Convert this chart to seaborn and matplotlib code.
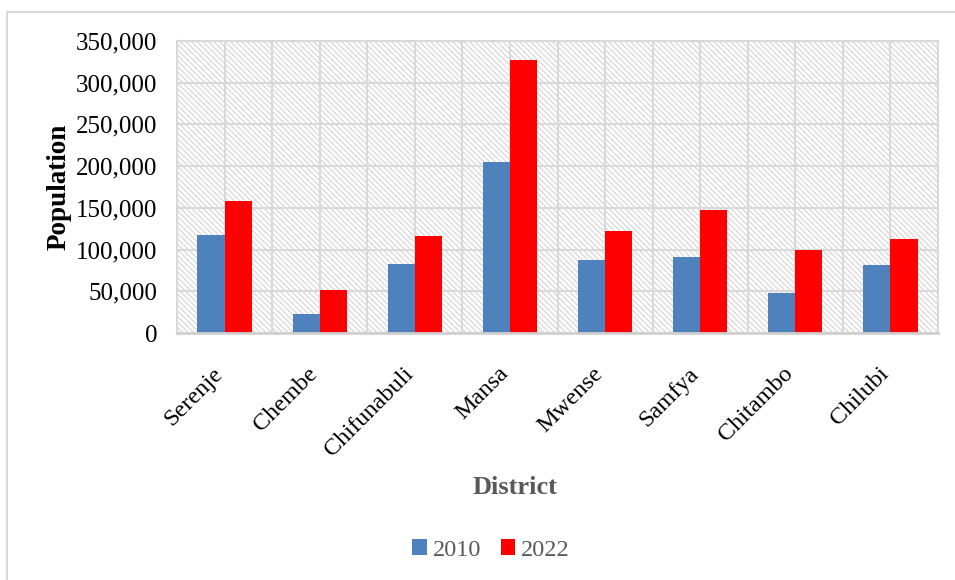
import matplotlib
matplotlib.use("Agg")
import matplotlib.pyplot as plt
import matplotlib.transforms as mtransforms
from matplotlib.patches import Rectangle, Patch
from matplotlib.ticker import FuncFormatter, MultipleLocator
import numpy as np
import pandas as pd
import seaborn as sns

# District populations (census years 2010 and 2022)
districts = ["Serenje", "Chembe", "Chifunabuli", "Mansa",
             "Mwense", "Samfya", "Chitambo", "Chilubi"]
pop_2010 = [118000, 23000, 83000, 205000, 87000, 91000, 48000, 81000]
pop_2022 = [158000, 51000, 116000, 327000, 122000, 147000, 100000, 113000]
years = ["2010", "2022"]
year_colors = ["#4F81BD", "#FF0000"]
y_ticks = [0, 50000, 100000, 150000, 200000, 250000, 300000, 350000]

df = pd.DataFrame({
    "District": districts * 2,
    "Population": pop_2010 + pop_2022,
    "Year": [years[0]] * len(districts) + [years[1]] * len(districts),
})

sns.set_theme(style="white")
plt.rcParams["font.family"] = ["Liberation Serif", "DejaVu Serif"]
plt.rcParams["hatch.linewidth"] = 0.8

W, H = 955, 580
fig = plt.figure(figsize=(W / 100, H / 100), dpi=100)
fig.patch.set_facecolor("white")

left, right, top, bottom = 177, 938, 41, 333
ax = fig.add_axes([left / W, 1 - bottom / H, (right - left) / W, (bottom - top) / H])

# hatched plot-area fill
ax.set_facecolor("white")
ax.add_patch(Rectangle((0, 0), 1, 1, transform=ax.transAxes, facecolor="white",
                       edgecolor="#d4d4d4", hatch="\\" * 6, linewidth=0, zorder=0.1))

sns.barplot(data=df, x="District", y="Population", hue="Year",
            palette=year_colors, width=0.57, gap=0, saturation=1,
            linewidth=0, legend=False, ax=ax, zorder=2)

ax.set_xlim(-0.5, len(districts) - 0.5)
ax.set_ylim(0, 350000)
ax.set_yticks(y_ticks)
ax.yaxis.set_major_formatter(FuncFormatter(lambda v, _: f"{int(v):,}"))

# gridlines: horizontal every 50,000, vertical every half category
ax.set_axisbelow(True)
ax.xaxis.set_minor_locator(MultipleLocator(0.5))
ax.grid(axis="y", which="major", color="#d9d9d9", linewidth=1.5)
ax.grid(axis="x", which="both", color="#d9d9d9", linewidth=1.5)
ax.tick_params(axis="x", which="both", length=0)
ax.tick_params(axis="y", length=0, pad=14, labelsize=18, labelcolor="black")
ax.tick_params(axis="x", pad=27, labelsize=17.5, labelcolor="black")

for lbl in ax.get_xticklabels():
    lbl.set_rotation(45)
    lbl.set_ha("right")
    lbl.set_va("center")
    lbl.set_rotation_mode("anchor")
    lbl.set_transform(lbl.get_transform() +
                      mtransforms.ScaledTranslation(-5 / 100, 0, fig.dpi_scale_trans))

for side in ["left", "right", "top"]:
    ax.spines[side].set_color("#d9d9d9")
    ax.spines[side].set_linewidth(1.5)
ax.spines["bottom"].set_color("#d0d0d0")
ax.spines["bottom"].set_linewidth(2)

ax.set_xlabel("")
ax.set_ylabel("Population", fontsize=19.5, fontweight="bold", color="black")
ax.yaxis.set_label_coords(-0.138, 0.5)

fig.text(515 / W, 1 - 487 / H, "District", fontsize=19, fontweight="bold",
         color="#595959", ha="center", va="center")

handles = [Patch(facecolor=c, edgecolor="none", label=y) for c, y in zip(year_colors, years)]
fig.legend(handles=handles, loc="center", bbox_to_anchor=(491 / W, 1 - 550 / H),
           ncol=2, frameon=False, fontsize=17.5, labelcolor="#595959",
           handlelength=0.6, handleheight=0.6, handletextpad=0.25, columnspacing=0.8)

# outer chart frame
fig.patches.append(Rectangle((7 / W, -0.1), 1.2, 1 - 12 / H + 0.1, transform=fig.transFigure,
                             fill=False, edgecolor="#d9d9d9", linewidth=1.5))

fig.savefig("out.png", dpi=100, facecolor="white")
